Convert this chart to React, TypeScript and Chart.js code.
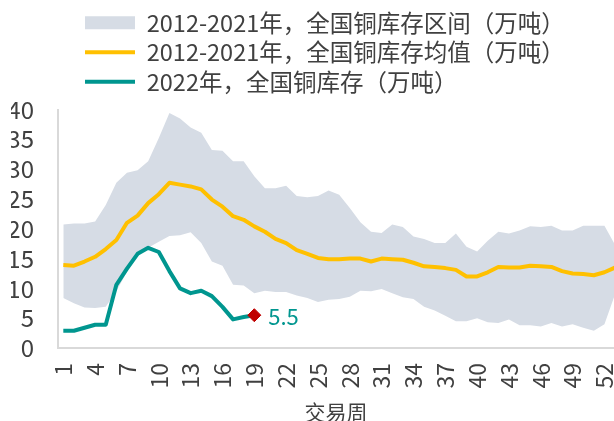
import React, { useEffect, useRef } from "react";
import { Chart, registerables } from "chart.js";

Chart.register(...registerables);

// ---- data ----
const WEEKS = [
  1, 2, 3, 4, 5, 6, 7, 8, 9, 10, 11, 12, 13, 14, 15, 16, 17, 18, 19, 20, 21, 22, 23, 24, 25, 26,
  27, 28, 29, 30, 31, 32, 33, 34, 35, 36, 37, 38, 39, 40, 41, 42, 43, 44, 45, 46, 47, 48, 49, 50,
  51, 52, 53,
];
const TICK_WEEKS = [1, 4, 7, 10, 13, 16, 19, 22, 25, 28, 31, 34, 37, 40, 43, 46, 49, 52];

const BAND_MAX = [
  20.7, 20.9, 20.9, 21.2, 24.0, 27.7, 29.4, 29.8, 31.3, 35.2, 39.4, 38.5, 37.0, 36.1, 33.2, 33.1,
  31.3, 31.3, 28.8, 26.8, 26.8, 27.2, 25.5, 25.3, 25.5, 26.4, 25.7, 23.5, 21.1, 19.5, 19.3, 20.7,
  20.3, 18.7, 18.3, 17.6, 17.6, 19.2, 17.0, 16.2, 18.0, 19.5, 19.2, 19.7, 20.4, 20.3, 20.5, 19.7,
  19.7, 20.5, 20.5, 20.5, 17.3,
];
const BAND_MIN = [
  8.4, 7.5, 6.8, 6.7, 6.9, 9.5, 12.8, 15.4, 16.8, 17.8, 18.8, 18.9, 19.4, 17.6, 14.5, 13.8, 10.6,
  10.5, 9.2, 9.6, 9.4, 9.4, 8.8, 8.4, 7.7, 8.1, 8.2, 8.6, 9.6, 9.5, 9.9, 9.2, 8.5, 8.2, 6.9, 6.3,
  5.4, 4.5, 4.5, 5.0, 4.3, 4.2, 4.8, 3.8, 3.8, 3.6, 4.2, 3.6, 4.0, 3.4, 2.9, 4.0, 9.0,
];
const MEAN = [
  13.9, 13.8, 14.5, 15.3, 16.6, 18.1, 21.0, 22.2, 24.3, 25.8, 27.7, 27.4, 27.1, 26.6, 24.9, 23.7,
  22.1, 21.5, 20.4, 19.5, 18.3, 17.6, 16.4, 15.8, 15.1, 14.9, 14.9, 15.0, 15.0, 14.5, 15.0, 14.9,
  14.8, 14.3, 13.7, 13.6, 13.4, 13.1, 12.0, 12.0, 12.7, 13.6, 13.5, 13.5, 13.8, 13.7, 13.6, 12.9,
  12.5, 12.4, 12.2, 12.7, 13.5,
];
const Y2022 = [
  2.9, 2.9, 3.4, 3.9, 3.9, 10.6, 13.3, 15.8, 16.8, 16.1, 12.9, 10.0, 9.2, 9.6, 8.7, 6.9, 4.8, 5.2,
  5.5,
];
const LAST_WEEK = 19;
const LAST_VALUE = 5.5;

const LABEL_BAND = "2012-2021年，全国铜库存区间（万吨）";
const LABEL_MEAN = "2012-2021年，全国铜库存均值（万吨）";
const LABEL_2022 = "2022年，全国铜库存（万吨）";
const X_TITLE = "交易周";

// ---- styles ----
const FONT = "'Noto Sans CJK SC', 'Noto Sans', sans-serif";
const TEXT = "#404040";
const BAND = "#D6DCE5";
const GOLD = "#FFC000";
const TEAL = "#00968F";
const RED = "#C00000";
const AXIS = "#D9D9D9";

const pts = (vals: number[]) => vals.map((v, i) => ({ x: WEEKS[i], y: v }));

const legendShift = {
  id: "legendShift",
  beforeDraw(chart: any) {
    const lg = chart.legend;
    if (lg) {
      lg.left = 79;
      lg.top = 5;
    }
  },
};

const valueLabel = {
  id: "valueLabel",
  afterDatasetsDraw(chart: any) {
    const meta = chart.getDatasetMeta(4);
    const pt = meta && meta.data[0];
    if (!pt) return;
    const ctx = chart.ctx;
    ctx.save();
    ctx.font = `22px ${FONT}`;
    ctx.fillStyle = TEAL;
    ctx.textAlign = "left";
    ctx.textBaseline = "middle";
    ctx.fillText(String(LAST_VALUE), pt.x + 14, pt.y + 1);
    ctx.restore();
  },
};

export default function App() {
  const ref = useRef<HTMLCanvasElement | null>(null);

  useEffect(() => {
    if (!ref.current) return;
    const chart = new Chart(ref.current, {
      type: "line",
      data: {
        datasets: [
          {
            label: LABEL_BAND,
            data: pts(BAND_MAX),
            fill: "+1",
            backgroundColor: BAND,
            borderColor: "rgba(0,0,0,0)",
            borderWidth: 0,
            pointRadius: 0,
            order: 5,
          },
          {
            label: "min",
            data: pts(BAND_MIN),
            fill: false,
            backgroundColor: BAND,
            borderColor: "rgba(0,0,0,0)",
            borderWidth: 0,
            pointRadius: 0,
            order: 5,
          },
          {
            label: LABEL_MEAN,
            data: pts(MEAN),
            fill: false,
            borderColor: GOLD,
            backgroundColor: GOLD,
            borderWidth: 4,
            borderJoinStyle: "round",
            pointRadius: 0,
            order: 3,
          },
          {
            label: LABEL_2022,
            data: pts(Y2022),
            fill: false,
            borderColor: TEAL,
            backgroundColor: TEAL,
            borderWidth: 4,
            borderJoinStyle: "round",
            pointRadius: 0,
            order: 2,
          },
          {
            label: "last",
            data: [{ x: LAST_WEEK, y: LAST_VALUE }],
            showLine: false,
            fill: false,
            pointStyle: "rectRot",
            pointRadius: 6.5,
            pointBackgroundColor: RED,
            pointBorderColor: RED,
            pointBorderWidth: 1,
            order: 1,
          },
        ],
      },
      options: {
        animation: false,
        responsive: false,
        events: [],
        layout: { padding: { left: 11, top: 11, right: 0, bottom: 0 }, autoPadding: false },
        scales: {
          x: {
            type: "linear",
            min: 0.5,
            max: 52.9,
            grid: { display: false, drawTicks: false },
            border: { display: true, color: AXIS, width: 2 },
            afterBuildTicks: (scale: any) => {
              scale.ticks = TICK_WEEKS.map((v) => ({ value: v }));
            },
            afterFit: (scale: any) => {
              scale.height = 73;
              scale.paddingLeft = 0;
              scale.paddingRight = 0;
            },
            ticks: {
              autoSkip: false,
              minRotation: 90,
              maxRotation: 90,
              padding: 15,
              color: TEXT,
              font: { family: FONT, size: 23 },
              callback: (v: any) => String(v),
            },
            title: {
              display: true,
              text: X_TITLE,
              color: TEXT,
              font: { family: FONT, size: 21, lineHeight: 0.9 },
              padding: { top: 17, bottom: 0 },
            },
          },
          y: {
            min: 0,
            max: 40,
            grid: { display: false, drawTicks: false },
            border: { display: true, color: AXIS, width: 2 },
            afterFit: (scale: any) => {
              scale.width = 47;
              scale.paddingTop = 0;
              scale.paddingBottom = 0;
            },
            ticks: {
              stepSize: 5,
              autoSkip: false,
              padding: 24,
              color: TEXT,
              font: { family: FONT, size: 24 },
            },
          },
        },
        plugins: {
          tooltip: { enabled: false },
          legend: {
            position: "top",
            align: "start",
            labels: {
              usePointStyle: true,
              pointStyleWidth: 50,
              boxHeight: 13,
              padding: 6,
              color: TEXT,
              font: { family: FONT, size: 23.5 },
              generateLabels: (c: any) => {
                const ds = c.data.datasets;
                return [
                  {
                    text: ds[0].label,
                    fillStyle: BAND,
                    strokeStyle: "rgba(0,0,0,0)",
                    lineWidth: 0,
                    pointStyle: "rect",
                    fontColor: TEXT,
                    hidden: false,
                    datasetIndex: 0,
                  },
                  {
                    text: ds[2].label,
                    fillStyle: GOLD,
                    strokeStyle: GOLD,
                    lineWidth: 4,
                    pointStyle: "line",
                    fontColor: TEXT,
                    hidden: false,
                    datasetIndex: 2,
                  },
                  {
                    text: ds[3].label,
                    fillStyle: TEAL,
                    strokeStyle: TEAL,
                    lineWidth: 4,
                    pointStyle: "line",
                    fontColor: TEXT,
                    hidden: false,
                    datasetIndex: 3,
                  },
                ];
              },
            },
          },
        },
      } as any,
      plugins: [legendShift, valueLabel],
    } as any);
    return () => chart.destroy();
  }, []);

  return (
    <div style={{ position: "fixed", left: 0, top: 0, width: 614, height: 421, background: "#fff" }}>
      <canvas ref={ref} width={614} height={421} style={{ display: "block" }} />
    </div>
  );
}
